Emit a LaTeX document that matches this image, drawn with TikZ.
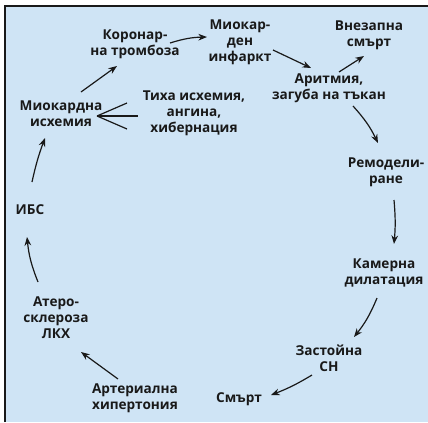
\documentclass[tikz,border=0pt]{standalone}
\usepackage{fontspec}
\setmainfont{Open Sans}[Script=Cyrillic, Language=Bulgarian]
\usetikzlibrary{positioning, calc, arrows.meta}
\definecolor{panelblue}{RGB}{207,228,245}
\definecolor{inkblack}{RGB}{25,25,25}

\begin{document}
\begin{tikzpicture}[
        x=0.75pt, y=-0.75pt,
        stage/.style={align=center, text=inkblack, inner sep=1pt,
                      font=\bfseries\fontsize{10.2}{12}\selectfont},
        flow/.style={-{Stealth[length=6.5pt, width=5pt]}, line width=0.9pt, inkblack},
        fork/.style={-, line width=0.9pt, inkblack},
    ]
    \useasboundingbox (0,0) rectangle (428,422);

    % ===== Panel =====
    \fill[panelblue] (5,6) rectangle (428,422);
    \draw[line width=1.1pt, inkblack] (5,422) -- (5,6) -- (428,6);

    % ===== Stages of the cycle =====
    \node[stage] (coron)  at (135,44)  {Коронар-\\на тромбоза};
    \node[stage] (inf)    at (240,42)  {Миокар-\\ден\\инфаркт};
    \node[stage] (sudden) at (369,35)  {Внезапна\\смърт};
    \node[stage] (arr)    at (329,88)  {Аритмия,\\загуба на тъкан};
    \node[stage] (remod)  at (386,172) {Ремодели-\\ране};
    \node[stage] (dil)    at (384,273) {Камерна\\дилатация};
    \node[stage] (cong)   at (329,358) {Застойна\\СН};
    \node[stage] (death)  at (239,399) {Смърт};
    \node[stage] (hyper)  at (135,398) {Артериална\\хипертония};
    \node[stage] (ather)  at (56,318)  {Атеро-\\склероза\\ЛКХ};
    \node[stage] (ibs)    at (30,210)  {ИБС};
    \node[stage] (isch)   at (61,114)  {Миокардна\\исхемия};
    \node[stage] (tiha)   at (194,113) {Тиха исхемия,\\ангина,\\хибернация};

    % ===== Arrows round the cycle =====
    \draw[flow] ($(coron)+(35,-1)$) to[bend left=8] ($(inf)+(-33,-5)$);
    \draw[flow] ($(inf)+(33,8)$) -- ($(arr)+(-18,-20)$);
    \draw[flow] ($(arr)+(10,-16)$) -- ($(sudden)+(-5,21)$);
    \draw[flow] ($(arr)+(24,18)$) to[bend left=8] ($(remod)+(-8,-29)$);
    \draw[flow] ($(remod)+(8,28)$) to[bend left=5] ($(dil)+(10,-29)$);
    \draw[flow] ($(dil)+(-7,25)$) to[bend left=8] ($(cong)+(25,-21)$);
    \draw[flow] ($(cong)+(-17,17)$) to[bend left=5] ($(death)+(32,-4)$);
    \draw[flow] ($(hyper)+(-17,-19)$) -- ($(ather)+(25,34)$);
    \draw[flow] ($(ather)+(-18,-36)$) to[bend left=8] ($(ibs)+(-3,27)$);
    \draw[flow] ($(ibs)+(2,-28)$) to[bend left=4] ($(isch)+(-16,24)$);
    \draw[flow] ($(isch)+(20,-22)$) -- ($(coron)+(-18,22)$);

    % ===== Fork to the silent forms =====
    \coordinate (fork) at ($(isch)+(36,2)$);
    \draw[fork] (fork) -- ($(tiha)+(-67,-10)$);
    \draw[fork] (fork) -- ($(tiha)+(-56,3)$);
    \draw[fork] (fork) -- ($(tiha)+(-67,16)$);
\end{tikzpicture}
\end{document}
